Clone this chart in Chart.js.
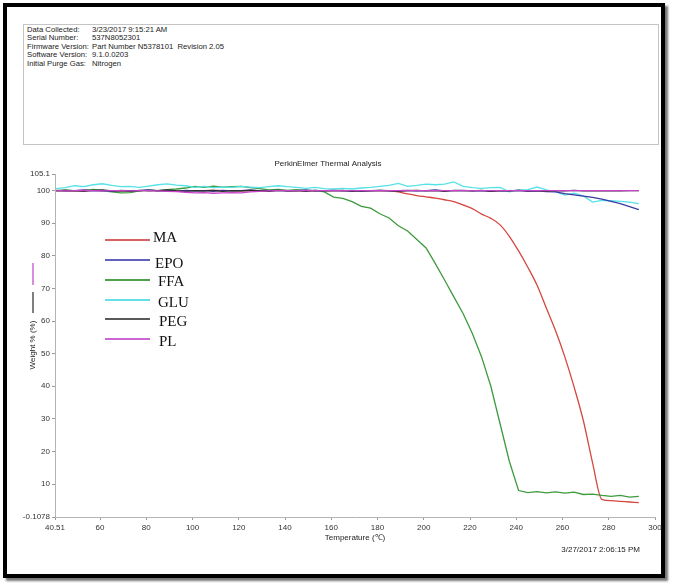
<!DOCTYPE html>
<html>
<head>
<meta charset="utf-8">
<script src="https://cdn.jsdelivr.net/npm/chart.js@4.4.1/dist/chart.umd.min.js"></script>
<style>
  html, body { margin: 0; padding: 0; background: #fff; }
  #wrap { position: relative; width: 675px; height: 584px; overflow: hidden; }
  .frame { position: absolute; left: 3px; top: 3px; width: 654px; height: 567px; border: 4px solid #000; box-shadow: 3px 3px 2px #777; }
  .info { position: absolute; left: 23px; top: 24px; width: 634px; height: 119px; border: 1px solid #c4c4c4;
          font: 7.7px "Liberation Sans", Arial, sans-serif; color: #222; }
  .row { position: absolute; left: 3px; height: 9px; line-height: 9px; white-space: nowrap; }
  .row span { position: absolute; left: 65px; }
  #chart { position: absolute; left: 0; top: 0; }
</style>
</head>
<body>
<div id="wrap">
  <div class="frame"></div>
  <div class="info">
    <div class="row" style="top:-0.5px">Data Collected:<span>3/23/2017 9:15:21 AM</span></div>
    <div class="row" style="top:8px">Serial Number:<span>537N8052301</span></div>
    <div class="row" style="top:16.5px">Firmware Version:<span>Part&nbsp;Number&nbsp;N5378101&nbsp;&nbsp;Revision&nbsp;2.05</span></div>
    <div class="row" style="top:25px">Software Version:<span>9.1.0.0203</span></div>
    <div class="row" style="top:33.5px">Initial Purge Gas:<span>Nitrogen</span></div>
  </div>
  <canvas id="chart" width="675" height="584"></canvas>
</div>
<script>
// Temperature (°C) sample points
const temps = [
  41, 45, 49, 53, 57, 61, 65, 69, 73, 77,
  81, 85, 89, 93, 97, 101, 105, 109, 113, 117,
  121, 125, 129, 133, 137, 141, 145, 149, 153, 157,
  161, 165, 169, 173, 177, 181, 185, 189, 193, 197,
  201, 205, 209, 213, 217, 221, 225, 229, 233, 237,
  241, 245, 249, 253, 257, 261, 265, 269, 273, 277,
  281, 285, 289, 293
];

// Weight % for each sample
const ma = [
  100.0, 100.0, 99.9, 100.0, 100.1, 100.0, 100.0, 99.9, 100.0, 100.0,
  100.1, 100.0, 100.0, 99.9, 100.0, 100.0, 100.0, 100.1, 100.0, 100.0,
  99.9, 100.0, 100.0, 100.0, 100.1, 100.0, 100.0, 100.0, 99.9, 100.0,
  100.0, 100.0, 100.0, 100.0, 100.0, 100.0, 99.9, 99.6, 99.0, 98.5,
  98.1, 97.7, 97.2, 96.6, 95.6, 94.5, 92.8, 91.5, 89.5, 86.0,
  81.5, 76.5, 71.0, 64.0, 57.0, 49.0, 39.8, 29.5, 16.5, 5.3,
  4.9, 4.7, 4.5, 4.3
];
const epo = [
  100.1, 99.9, 100.0, 100.2, 99.9, 100.0, 99.8, 100.1, 99.9, 100.0,
  100.2, 99.9, 100.0, 99.8, 100.1, 99.9, 100.0, 99.8, 100.1, 99.9,
  100.0, 100.2, 99.9, 100.0, 100.1, 99.9, 100.0, 100.2, 99.9, 100.0,
  100.1, 99.9, 100.0, 99.8, 100.0, 100.1, 99.9, 100.0, 100.1, 99.9,
  100.0, 100.2, 99.9, 100.0, 100.1, 99.9, 100.0, 99.8, 100.0, 99.9,
  100.1, 99.8, 99.9, 99.7, 99.6, 99.1, 98.7, 98.3, 97.9, 97.4,
  96.7, 96.0, 95.1, 94.2
];
const ffa = [
  100.0, 100.2, 99.9, 100.1, 100.4, 100.0, 99.6, 99.3, 99.4, 99.9,
  100.2, 100.0, 100.3, 100.5, 100.8, 101.3, 101.0, 101.4, 101.1, 101.2,
  101.3, 100.9, 100.6, 100.2, 100.4, 100.1, 100.3, 100.0, 100.1, 99.6,
  98.0, 97.6, 96.6, 95.2, 94.6, 92.9, 91.6, 89.2, 87.6, 85.0,
  82.4, 77.6, 72.6, 67.4, 62.3, 56.2, 49.0, 40.0, 28.5, 17.0,
  8.0, 7.4, 7.7, 7.3, 7.6, 7.2, 7.5, 6.8, 6.9, 6.5,
  6.2, 6.5, 6.0, 6.2
];
const glu = [
  100.6, 100.9, 101.5, 101.2, 101.8, 102.1, 101.6, 101.2, 101.3, 101.0,
  101.4, 101.8, 102.1, 101.7, 101.5, 101.0, 101.3, 100.9, 101.1, 101.0,
  101.3, 101.1, 100.9, 101.2, 101.5, 101.2, 101.0, 100.7, 101.0, 100.6,
  100.5, 100.7, 100.5, 100.8, 101.0, 101.3, 101.6, 102.2, 101.3, 101.6,
  102.0, 101.8, 102.0, 102.7, 101.3, 100.9, 100.7, 100.9, 101.0, 99.6,
  100.2, 100.3, 101.1, 100.2, 99.7, 98.6, 99.2, 98.4, 96.5, 97.0,
  96.9, 96.7, 96.5, 96.0
];
const peg = [
  99.9, 100.1, 100.0, 99.8, 100.1, 100.2, 99.9, 100.0, 99.8, 100.1,
  99.9, 100.0, 100.2, 99.9, 99.8, 100.0, 99.9, 100.1, 99.8, 100.0,
  99.9, 100.1, 100.0, 99.8, 100.1, 99.9, 100.0, 99.8, 100.1, 99.9,
  100.0, 100.1, 99.8, 100.0, 99.9, 100.1, 100.0, 99.8, 100.0, 100.1,
  99.9, 100.0, 99.8, 100.1, 100.0, 99.9, 100.1, 99.8, 100.0, 99.9,
  100.1, 99.9, 100.0, 99.8, 100.0, 99.9, 100.1, 99.9, 100.0, 99.9,
  100.0, 99.9, 100.0, 100.0
];
const pl = [
  100.0, 99.9, 100.0, 100.1, 100.0, 99.9, 100.0, 100.0, 99.9, 100.0,
  100.0, 99.9, 99.8, 99.7, 99.5, 99.3, 99.4, 99.2, 99.3, 99.4,
  99.3, 99.6, 99.8, 99.9, 100.0, 100.0, 100.0, 100.0, 100.0, 100.0,
  100.0, 100.0, 100.0, 100.0, 100.0, 100.0, 100.0, 100.0, 100.0, 100.0,
  100.0, 100.0, 100.0, 100.0, 100.0, 100.0, 100.0, 100.0, 100.0, 100.0,
  100.0, 100.0, 100.0, 100.0, 100.0, 100.0, 100.0, 100.0, 100.0, 100.0,
  100.0, 100.0, 100.0, 100.0
];

const xTicks = [40.51, 60, 80, 100, 120, 140, 160, 180, 200, 220, 240, 260, 280, 300];
const yTicks = [-0.1078, 10, 20, 30, 40, 50, 60, 70, 80, 90, 100, 105.1];

const chartTitle = 'PerkinElmer Thermal Analysis';
const xTitle = 'Temperature (℃)';
const yTitle = 'Weight % (%)';
const stamp = '3/27/2017 2:06:15 PM';

const sans = '"Liberation Sans", Arial, sans-serif';
const pts = vals => temps.map((t, i) => ({ x: t, y: vals[i] }));

// legend lines/labels sit inside the plot, hand placed like the original
const legendPos = [
  { y: 240, ty: 238, tx: 153, c: '#d76262' },
  { y: 260, ty: 264, tx: 155, c: '#6262bc' },
  { y: 280, ty: 282, tx: 158, c: '#4f9f4f' },
  { y: 300, ty: 303, tx: 158, c: '#62e0e6' },
  { y: 319, ty: 322, tx: 159, c: '#5a5a5a' },
  { y: 339, ty: 342, tx: 159, c: '#cc66d2' },
];

const overlay = {
  id: 'overlay',
  afterDraw(chart) {
    const ctx = chart.ctx;
    ctx.save();
    ctx.fillStyle = '#222';
    ctx.font = '8px ' + sans;
    ctx.textBaseline = 'middle';
    ctx.textAlign = 'center';
    ctx.fillText(chartTitle, 328, 164);
    ctx.fillText(xTitle, 355, 538);
    ctx.textAlign = 'right';
    ctx.fillText(stamp, 640, 550);

    // small marks next to the y title
    ctx.lineWidth = 1.5;
    ctx.strokeStyle = '#c86ad0';
    ctx.beginPath(); ctx.moveTo(33, 263); ctx.lineTo(33, 285); ctx.stroke();
    ctx.strokeStyle = '#555';
    ctx.beginPath(); ctx.moveTo(33, 292); ctx.lineTo(33, 313); ctx.stroke();

    ctx.save();
    ctx.translate(33, 345);
    ctx.rotate(-Math.PI / 2);
    ctx.textAlign = 'center';
    ctx.fillText(yTitle, 0, 0);
    ctx.restore();

    // legend
    ctx.font = '15px "Liberation Serif", "Times New Roman", serif';
    ctx.textAlign = 'left';
    chart.data.datasets.forEach((ds, i) => {
      const p = legendPos[i];
      ctx.strokeStyle = p.c;
      ctx.lineWidth = 1.8;
      ctx.beginPath(); ctx.moveTo(105, p.y); ctx.lineTo(150, p.y); ctx.stroke();
      ctx.fillStyle = '#111';
      ctx.fillText(ds.label, p.tx, p.ty);
    });
    ctx.restore();
  }
};

const tickFont = { family: sans, size: 8 };

new Chart(document.getElementById('chart'), {
  type: 'line',
  data: {
    datasets: [
      { label: 'MA', data: pts(ma), borderColor: '#d5473f', order: 5, cubicInterpolationMode: 'monotone' },
      { label: 'EPO', data: pts(epo), borderColor: '#3a3aa4', order: 2 },
      { label: 'FFA', data: pts(ffa), borderColor: '#3d9a3d', order: 4 },
      { label: 'GLU', data: pts(glu), borderColor: '#55e2e8', order: 3 },
      { label: 'PEG', data: pts(peg), borderColor: '#2c2c2c', order: 1 },
      { label: 'PL', data: pts(pl), borderColor: '#c844c8', order: 0 },
    ],
  },
  options: {
    responsive: false,
    animation: false,
    events: [],
    layout: { padding: { top: 174, right: 20, left: 0, bottom: 0 } },
    elements: {
      point: { radius: 0 },
      line: { borderWidth: 1.3, tension: 0, fill: false },
    },
    plugins: {
      legend: { display: false },
      tooltip: { enabled: false },
      title: { display: false },
    },
    scales: {
      x: {
        type: 'linear',
        min: 40.51,
        max: 300,
        afterBuildTicks: s => { s.ticks = xTicks.map(v => ({ value: v })); },
        afterFit: s => { s.height = 67; },
        grid: { drawOnChartArea: false, tickLength: 3, color: '#9a9a9a' },
        border: { color: '#b4b4b4' },
        ticks: { autoSkip: false, maxRotation: 0, padding: 3, color: '#333', font: tickFont, callback: v => String(v) },
      },
      y: {
        type: 'linear',
        min: -0.1078,
        max: 105.1,
        afterBuildTicks: s => { s.ticks = yTicks.map(v => ({ value: v })); },
        afterFit: s => { s.width = 55; },
        grid: { drawOnChartArea: false, tickLength: 3, color: '#9a9a9a' },
        border: { color: '#b4b4b4' },
        ticks: { autoSkip: false, padding: 2, color: '#333', font: tickFont, callback: v => String(v) },
      },
    },
  },
  plugins: [overlay],
});
</script>
</body>
</html>
